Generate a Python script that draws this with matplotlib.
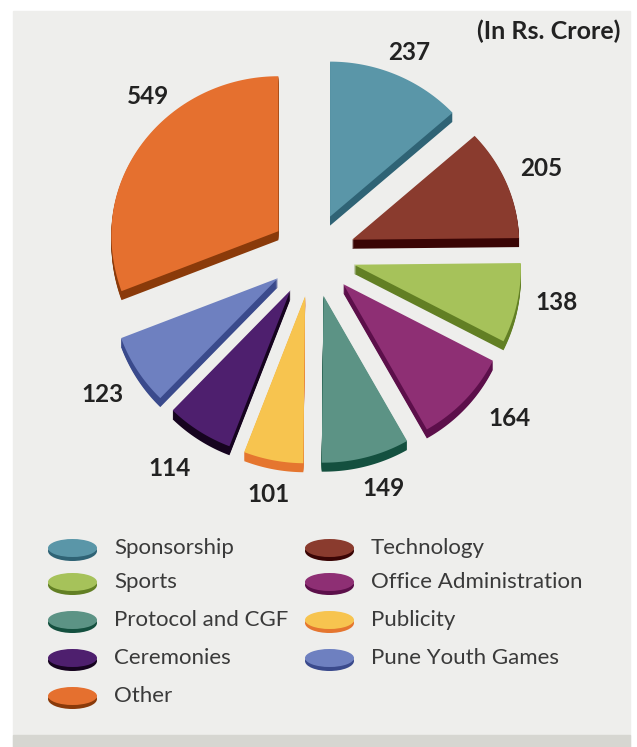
import numpy as np
import matplotlib
matplotlib.use("Agg")
import matplotlib.pyplot as plt
from matplotlib.patches import Ellipse, Rectangle

plt.rcParams['font.family'] = ['Lato', 'DejaVu Sans']

categories = ["Sponsorship", "Technology", "Sports", "Office Administration",
              "Protocol and CGF", "Publicity", "Ceremonies", "Pune Youth Games", "Other"]
values = [237, 205, 138, 164, 149, 101, 114, 123, 549]
face_colors = ["#5A96A8", "#8A3B2E", "#A6C25A", "#8E2F74", "#5C9385",
               "#F7C44F", "#4E1F6E", "#6E80C0", "#E5702F"]
side_colors = ["#2F6375", "#3A0505", "#627F24", "#5C0F4A", "#14503F",
               "#E5762F", "#16041F", "#3A4A8C", "#8A3A0A"]

# where each value label sits, in picture pixels
label_x = [409, 541, 557, 509, 384, 269, 170, 102, 148]
label_y = [53, 168, 303, 418, 489, 495, 468, 395, 97]

legend_x = [48, 305, 48, 305, 48, 305, 48, 305, 48]
legend_y = [549, 549, 583, 583, 621, 621, 659, 659, 697]

cx, cy = 313, 255
explode = 42
ry_up, ry_down = 155, 167
depth = 9


def slice_outline(start, stop):
    # perspective tilt: far half of the pie is flatter than the near half
    mid = np.radians((start + stop) / 2)
    ax0 = cx + explode * np.cos(mid)
    ay0 = cy - explode * np.sin(mid)
    t = np.radians(np.linspace(start, stop, 80))
    s = np.sin(t)
    xs = ax0 + (167 - 3 * s) * np.cos(t)
    ys = ay0 - np.where(s > 0, ry_up, ry_down) * s
    return np.r_[ax0, xs], np.r_[ay0, ys]


fig = plt.figure(figsize=(6.37, 7.47), dpi=100, facecolor="white")
ax = fig.add_axes([0, 0, 1, 1])
ax.set_xlim(0, 637)
ax.set_ylim(747, 0)
ax.axis("off")

# page panel and the grey band at its foot
ax.add_patch(Rectangle((13, 11), 617, 736, color="#EEEEEC", zorder=0))
ax.add_patch(Rectangle((13, 735), 617, 12, color="#D6D6D1", zorder=0))

angle = 90
for v, fc, sc in zip(values, face_colors, side_colors):
    sweep = v / sum(values) * 360
    xs, ys = slice_outline(angle - sweep, angle)
    for d in range(1, depth + 1):
        ax.fill(xs, ys + d, color=sc, lw=0, zorder=2)
    ax.fill(xs, ys, color=fc, lw=0, zorder=3)
    angle -= sweep

for v, x, y in zip(values, label_x, label_y):
    ax.text(x, y, str(v), fontsize=17.5, fontweight="bold", color="#222222",
            ha="center", va="center", zorder=5)

ax.text(620, 31, "(In Rs. Crore)", fontsize=18, fontweight="bold", color="#222222",
        ha="right", va="center", zorder=5)

for name, fc, sc, x, y in zip(categories, face_colors, side_colors, legend_x, legend_y):
    ax.add_patch(Ellipse((x + 24.5, y + 2), 49, 20, color=sc, lw=0, zorder=3))
    ax.add_patch(Ellipse((x + 24.5, y - 1), 49, 18, color=fc, lw=0, zorder=4))
    ax.text(x + 66, y - 1, name, fontsize=16, color="#3A3A3A",
            ha="left", va="center", zorder=5)

fig.savefig("out.png", dpi=100)
